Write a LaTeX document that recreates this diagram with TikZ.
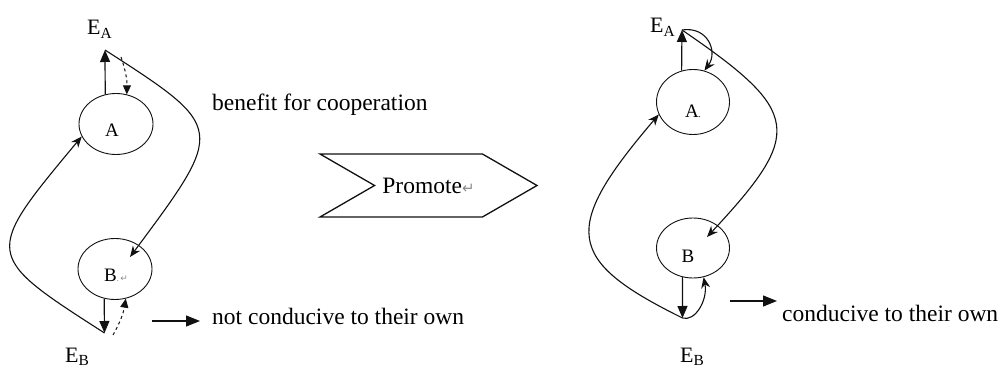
\documentclass[tikz,border=0pt]{standalone}
\usepackage{fontspec}
\setmainfont{Liberation Serif}
\newfontfamily\markfont{DejaVu Sans}
\usepackage{xcolor}
\definecolor{lineDark}{HTML}{111111}
\definecolor{markGray}{HTML}{8C8C8C}
\usepackage{tikz}
\usetikzlibrary{arrows.meta,shapes.geometric,shapes.symbols,positioning,calc}
\tikzset{%
  agentNode/.style={%
    ellipse,
    draw=lineDark,
    line width=0.9pt,
    minimum width=74pt,
    minimum height=61pt,
    inner sep=0pt
  },
  agentText/.style={%
    inner sep=0pt,
    font=\fontsize{19}{21}\selectfont
  },
  energyText/.style={%
    inner sep=0pt,
    anchor=base west,
    font=\fontsize{22}{24}\selectfont
  },
  noteText/.style={%
    inner sep=0pt,
    anchor=base west,
    font=\fontsize{23.5}{25}\selectfont
  },
  promoteSign/.style={%
    signal,
    signal from=west,
    signal to=east,
    signal pointer angle=60,
    draw=lineDark,
    line width=1.3pt,
    minimum width=217pt,
    minimum height=63pt,
    inner sep=0pt
  },
  stemArrow/.style={%
    -{Triangle[length=12pt,width=10pt]},
    line width=1.2pt,
    color=lineDark
  },
  flowArrow/.style={%
    -{Stealth[length=11pt,width=9pt]},
    line width=1.1pt,
    color=lineDark
  },
  backArrow/.style={%
    -{Triangle[length=9pt,width=8pt]},
    dashed,
    line width=1pt,
    color=lineDark
  },
  pointerArrow/.style={%
    -{Triangle[length=14pt,width=11pt]},
    line width=1.2pt,
    color=lineDark
  }
}
\begin{document}
\begin{tikzpicture}[x=1pt,y=-1pt]
\useasboundingbox (0,0) rectangle (1004,371);

% before: A and B
\node[agentNode] (A1) at (116,124) {};
\node[agentNode] (B1) at (115,269) {};
\node[agentText] (A1t) at ($(A1.center)+(-4,6)$) {A};
\node[agentText] (B1t) at ($(B1.center)+(1,6)$) {B{\fontsize{9}{9}\selectfont\color{markGray}.\,\markfont↵}};
\coordinate (EA1) at (105,50);
\coordinate (EB1) at (104.5,333);
\coordinate (EA1d) at (121,57);
\coordinate (EB1d) at (113,335);
\coordinate (B1in) at (130,257);
\node[energyText] (EA1t) at (87,35) {E\textsubscript{A}};
\node[energyText] (EB1t) at (65,362) {E\textsubscript{B}};

\draw[stemArrow] (A1.110) -- (EA1);
\draw[stemArrow] (B1.250) -- (EB1);
\draw[backArrow] (EA1d) to[bend left=10] (A1.70);
\draw[backArrow] (EB1d) to[bend right=10] (B1.-70);
\draw[flowArrow] (EA1) .. controls (226,128) .. (B1in);
\draw[flowArrow] (EB1) .. controls (-17,255) .. (A1.200);

\node[noteText] (benefit) at (212,111) {benefit for cooperation};
\node[noteText] (notOwn) at (212,325) {not conducive to their own};
\coordinate (ptr1) at (152,321);
\draw[pointerArrow] (ptr1) -- ++(48,0);

% promote
\node[promoteSign] (promote) at (428.5,185.5) {};
\node[agentText, font=\fontsize{23.5}{25}\selectfont] (promoteText) at (promote.center) {Promote{\fontsize{15}{15}\selectfont\color{markGray}\markfont↵}};

% after: A and B
\node[agentNode, minimum width=73pt, minimum height=65pt] (A2) at (693,102) {};
\node[agentNode, minimum width=73pt, minimum height=60pt] (B2) at (693,248) {};
\node[agentText] (A2t) at ($(A2.center)+(0,9)$) {A{\fontsize{9}{9}\selectfont.}};
\node[agentText] (B2t) at ($(B2.center)+(-5,8)$) {B};
\coordinate (EA2) at (682,30);
\coordinate (EB2) at (682.5,318);
\coordinate (B2in) at (707,237);
\node[energyText] (EA2t) at (650,33) {E\textsubscript{A}};
\node[energyText] (EB2t) at (680,362) {E\textsubscript{B}};

\draw[stemArrow] (A2.110) -- (EA2);
\draw[stemArrow] (B2.250) -- (EB2);
\draw[flowArrow] (EA2) .. controls (708,26) and (718,52) .. (A2.70);
\draw[flowArrow] (EB2) .. controls (695,322) and (708,300) .. (B2.-70);
\draw[flowArrow] (EA2) .. controls (802,112) and (804,133) .. (B2in);
\draw[flowArrow] (EB2) .. controls (565,260) and (561,229) .. (A2.200);

\node[noteText] (ownGood) at (782,322) {conducive to their own};
\coordinate (ptr2) at (730,301);
\draw[pointerArrow] (ptr2) -- ++(47,0);
\end{tikzpicture}
\end{document}
